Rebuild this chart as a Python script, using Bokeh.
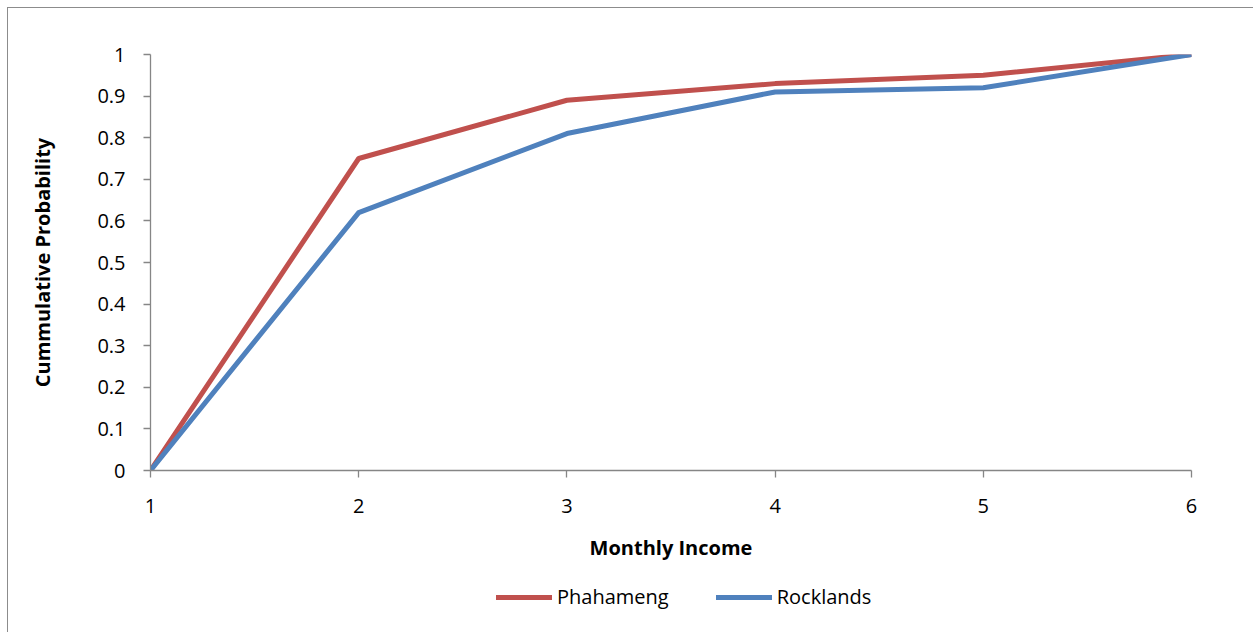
from bokeh.plotting import figure
from bokeh.layouts import column
from bokeh.models import Range1d, FixedTicker, Legend, LegendItem, InlineStyleSheet
from bokeh.embed import file_html
from bokeh.resources import INLINE

# Cumulative probability of monthly income class, per township
income_class = [1, 2, 3, 4, 5, 6]
phahameng = [0.0, 0.75, 0.89, 0.93, 0.95, 1.0]
rocklands = [0.0, 0.62, 0.81, 0.91, 0.92, 1.0]

x_ticks = [1, 2, 3, 4, 5, 6]
y_ticks = [0.0, 0.1, 0.2, 0.3, 0.4, 0.5, 0.6, 0.7, 0.8, 0.9, 1.0]
y_tick_labels = ["0", "0.1", "0.2", "0.3", "0.4", "0.5", "0.6", "0.7", "0.8", "0.9", "1"]

series_names = ["Phahameng", "Rocklands"]
series_colors = ["#C0504D", "#4F81BD"]
series_values = [phahameng, rocklands]

FONT = "Open Sans"
AXIS_GREY = "#868686"
WIDTH = 1253

# ---- main chart -------------------------------------------------------
p = figure(width=WIDTH, height=572, output_backend="svg", toolbar_location=None,
           x_range=Range1d(1, 6), y_range=Range1d(0, 1),
           min_border_left=150, min_border_right=62,
           min_border_top=54, min_border_bottom=102)
p.background_fill_color = "white"
p.border_fill_color = "white"
p.outline_line_color = None
p.xgrid.visible = False
p.ygrid.visible = False

for vals, color in zip(series_values, series_colors):
    p.line(income_class, vals, line_color=color, line_width=5,
           line_join="round", line_cap="round")

for ax in (p.xaxis[0], p.yaxis[0]):
    ax.axis_line_color = AXIS_GREY
    ax.axis_line_width = 1.3
    ax.major_tick_line_color = AXIS_GREY
    ax.major_tick_line_width = 1.3
    ax.major_tick_in = 0
    ax.major_tick_out = 7
    ax.minor_tick_line_color = None
    ax.major_label_text_font = FONT
    ax.major_label_text_font_size = "20px"
    ax.major_label_text_color = "black"
    ax.axis_label_text_font = FONT
    ax.axis_label_text_font_size = "20px"
    ax.axis_label_text_font_style = "bold"
    ax.axis_label_text_color = "black"

p.xaxis.ticker = FixedTicker(ticks=x_ticks)
p.xaxis.major_label_overrides = {t: str(t) for t in x_ticks}
p.xaxis.major_label_standoff = 21
p.xaxis.axis_label = "Monthly Income"
p.xaxis.axis_label_standoff = 18

p.yaxis.ticker = FixedTicker(ticks=y_ticks)
p.yaxis.major_label_overrides = dict(zip(y_ticks, y_tick_labels))
p.yaxis.major_label_standoff = 18
p.yaxis.axis_label = "Cummulative Probability"
p.yaxis.axis_label_standoff = 38

# ---- legend strip under the chart -------------------------------------
lp = figure(width=WIDTH, height=60, output_backend="svg", toolbar_location=None,
            x_range=Range1d(-10, -9), y_range=Range1d(-10, -9),
            x_axis_type=None, y_axis_type=None,
            min_border=0)
lp.background_fill_color = "white"
lp.border_fill_color = "white"
lp.outline_line_color = None
lp.xgrid.visible = False
lp.ygrid.visible = False

legend_renderers = [
    lp.line(income_class, vals, line_color=color, line_width=5,
            line_join="round", line_cap="round")
    for vals, color in zip(series_values, series_colors)
]
legend = Legend(items=[LegendItem(label=n, renderers=[r])
                       for n, r in zip(series_names, legend_renderers)],
                orientation="horizontal", location=(346, 22),
                glyph_width=56, glyph_height=20, label_standoff=5, spacing=47,
                padding=0, margin=0, border_line_color=None,
                background_fill_alpha=0,
                label_text_font=FONT, label_text_font_size="20px",
                label_text_color="black")
lp.add_layout(legend, "center")

layout = column(p, lp, spacing=0)
# chart area border on the left and top edges
layout.stylesheets = [InlineStyleSheet(css="""
:host::after {
  content: "";
  position: absolute;
  left: 7px; top: 7px; right: -20px; bottom: -20px;
  border-left: 1px solid #8c8c8c;
  border-top: 1px solid #8c8c8c;
  pointer-events: none;
}
""")]

open("out.html", "w").write(file_html(layout, INLINE))
